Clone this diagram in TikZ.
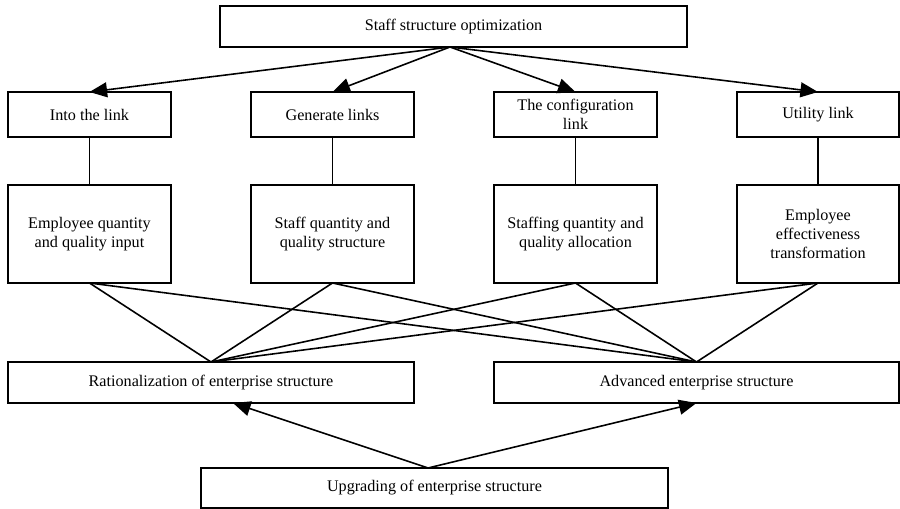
\documentclass[tikz,border=0pt]{standalone}
\usepackage{fontspec}
\setmainfont{Liberation Serif}
\usetikzlibrary{arrows.meta}

\begin{document}
\begin{tikzpicture}[x=0.02cm, y=-0.02cm, font=\fontsize{9.2}{10.8}\selectfont,
  box/.style={draw, line width=0.9pt, align=center, inner sep=1pt, outer sep=0pt},
  link/.style={line width=0.9pt},
  arr/.style={line width=0.9pt, -{Triangle[length=10pt,width=8.5pt]}}]

\useasboundingbox (0,0) rectangle (900,509);

% Row heights (pixel units, counted from the top)
\def\rowa{26.5}
\def\rowb{114.5}
\def\rowc{234}
\def\rowd{382.5}
\def\rowe{488}

% Top row - goal
\node[box, minimum width=467*0.02cm, minimum height=41*0.02cm] (top) at (453.5, \rowa) {Staff structure optimization};

% Second row - links
\node[box, minimum width=163*0.02cm, minimum height=45*0.02cm] (into) at (89.5, \rowb) {Into the link};
\node[box, minimum width=163*0.02cm, minimum height=45*0.02cm] (gen) at (332.5, \rowb) {Generate links};
\node[box, minimum width=163*0.02cm, minimum height=45*0.02cm] (conf) at (575.5, \rowb) {The configuration\\link};
\node[box, minimum width=162*0.02cm, minimum height=45*0.02cm] (util) at (818, \rowb) {Utility link};

% Third row - contents of each link
\node[box, minimum width=163*0.02cm, minimum height=98*0.02cm] (inq) at (89.5, \rowc) {Employee quantity\\and quality input};
\node[box, minimum width=163*0.02cm, minimum height=98*0.02cm] (stq) at (332.5, \rowc) {Staff quantity and\\quality structure};
\node[box, minimum width=163*0.02cm, minimum height=98*0.02cm] (saq) at (575.5, \rowc) {Staffing quantity and\\quality allocation};
\node[box, minimum width=162*0.02cm, minimum height=98*0.02cm] (eet) at (818, \rowc) {Employee\\effectiveness\\transformation};

% Fourth row - results
\node[box, minimum width=406*0.02cm, minimum height=41*0.02cm] (rat) at (211, \rowd) {Rationalization of enterprise structure};
\node[box, minimum width=405*0.02cm, minimum height=41*0.02cm] (adv) at (696.5, \rowd) {Advanced enterprise structure};

% Bottom row
\node[box, minimum width=467*0.02cm, minimum height=40*0.02cm] (upg) at (434.5, \rowe) {Upgrading of enterprise structure};

% Arrows from the goal down to the links
\draw[arr] ([xshift=-0.07cm]top.south) -- (into.north);
\draw[arr] ([xshift=-0.07cm]top.south) -- (gen.north);
\draw[arr] ([xshift=-0.07cm]top.south) -- (conf.north);
\draw[arr] ([xshift=-0.07cm]top.south) -- (util.north);

% Links to contents
\draw[link] (into) -- (inq);
\draw[link] (gen) -- (stq);
\draw[link] (conf) -- (saq);
\draw[link] (util) -- (eet);

% Contents to both results
\draw[link] (inq.south) -- (rat.north);
\draw[link] (stq.south) -- (rat.north);
\draw[link] (saq.south) -- (rat.north);
\draw[link] (eet.south) -- (rat.north);
\draw[link] (inq.south) -- (adv.north);
\draw[link] (stq.south) -- (adv.north);
\draw[link] (saq.south) -- (adv.north);
\draw[link] (eet.south) -- (adv.north);

% Arrows up from the bottom box
\draw[arr] ([xshift=-0.13cm]upg.north) -- ([xshift=0.44cm]rat.south);
\draw[arr] ([xshift=-0.13cm]upg.north) -- (adv.south);

\end{tikzpicture}
\end{document}
